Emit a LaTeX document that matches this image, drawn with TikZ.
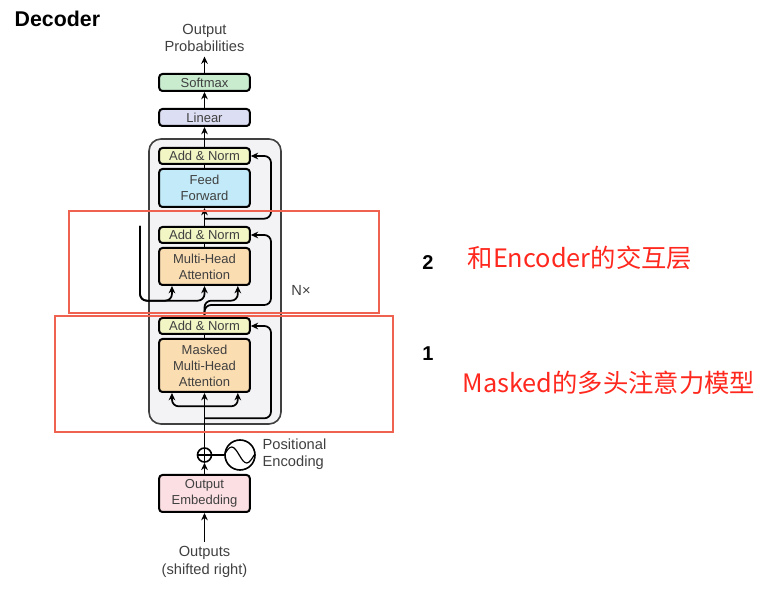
\documentclass[tikz,border=0pt]{standalone}
\usepackage{fontspec}
\setmainfont{Liberation Sans}
\newfontfamily\cjk{Noto Sans CJK SC}
\usetikzlibrary{arrows.meta, positioning}
\definecolor{smgreen}{RGB}{201,236,207}
\definecolor{linlav}{RGB}{220,222,243}
\definecolor{normyel}{RGB}{242,245,196}
\definecolor{ffblue}{RGB}{195,234,248}
\definecolor{attorange}{RGB}{251,221,178}
\definecolor{embpink}{RGB}{252,223,227}
\definecolor{stackgray}{RGB}{243,243,246}
\definecolor{txtgray}{RGB}{64,64,64}
\definecolor{markred}{RGB}{240,98,80}
\definecolor{notered}{RGB}{255,40,30}

\begin{document}
\begin{tikzpicture}[x=0.75pt, y=-0.75pt,
    box/.style={draw=black, line width=1.5pt, rounded corners=2.5pt, inner sep=0pt, minimum width=68pt, text=txtgray, font=\fontsize{9.75}{12}\selectfont, align=center},
    arr/.style={-{Stealth[length=5.5pt,width=5pt]}, line width=1.3pt},
    wire/.style={line width=1.3pt},
    lbl/.style={text=txtgray, font=\fontsize{11}{13}\selectfont, align=center}]
        \useasboundingbox (0,0) rectangle (769,598);
        % decoder stack
        \draw[fill=stackgray, draw=black!75, line width=1.2pt, rounded corners=9pt] (149,139) rectangle (281,424);
        \node[box, fill=smgreen, minimum height=12.75pt] (sm) at (204.5,82.5) {Softmax};
        \node[box, fill=linlav, minimum height=12.75pt] (lin) at (204.5,117.5) {Linear};
        \node[box, fill=normyel, minimum height=12pt] (an3) at (204.5,156) {Add \& Norm};
        \node[box, fill=ffblue, minimum height=28.5pt] (ff) at (204.5,188) {Feed\\Forward};
        \node[box, fill=normyel, minimum height=12pt] (an2) at (204.5,235) {Add \& Norm};
        \node[box, fill=attorange, minimum height=27.75pt] (mha) at (204.5,266.5) {Multi-Head\\Attention};
        \node[box, fill=normyel, minimum height=12pt] (an1) at (204.5,326) {Add \& Norm};
        \node[box, fill=attorange, minimum height=39.75pt] (mmha) at (204.5,365.5) {Masked\\Multi-Head\\Attention};
        \node[box, fill=embpink, minimum height=27.75pt] (emb) at (204.5,493.5) {Output\\Embedding};
        \node[circle, draw, line width=1.2pt, minimum size=10.5pt, inner sep=0pt] (plus) at (204.5,455) {};
        \node[circle, draw, line width=1.2pt, minimum size=22.5pt, inner sep=0pt] (pe) at (240,455) {};
        \node[lbl] (outp) at (204.5,38) {Output\\Probabilities};
        \node[lbl] (outs) at (204.5,562) {Outputs\\(shifted right)};
        \node[lbl, align=left, anchor=west] (pelbl) at (258,454) {Positional\\Encoding};
        \node[text=txtgray, font=\fontsize{11}{13}\selectfont] (nx) at (301,290) {N×};
        \coordinate (enc) at (140,226);
        % connectors, top part
        \draw[arr] (sm.north) -- (outp.south);
        \draw[arr] (lin.north) -- (sm.south);
        \draw[arr] (an3.north) -- (lin.south);
        \draw[wire] (ff.north) -- (an3.south);
        \draw[arr] (an2.north) -- (ff.south);
        \draw[arr, rounded corners=5pt] ([yshift=-8pt]ff.south) -- ++(66.5,0) |- (an3.east);
        \draw[wire] (mha.north) -- (an2.south);
        \draw[arr, rounded corners=5pt] (an1.north) |- ([xshift=25pt, yshift=-11pt]mha.south) -- ([xshift=25pt]mha.south);
        \draw[arr, rounded corners=5pt] (an1.north) -- ++(0,-12) -- ++(66.5,0) |- (an2.east);
        \draw[arr, rounded corners=5pt] (enc) |- ([xshift=-24.4pt, yshift=-11pt]mha.south) -- ([xshift=-24.4pt]mha.south);
        \draw[arr, rounded corners=5pt] (enc) |- ([yshift=-11pt]mha.south) -- (mha.south);
        % connectors, bottom part
        \draw[wire] (mmha.north) -- (an1.south);
        \draw[arr] (plus.north) -- (mmha.south);
        \draw[arr, rounded corners=5pt] ([yshift=-10pt]mmha.south) -| ([xshift=-24.4pt]mmha.south);
        \draw[arr, rounded corners=5pt] ([yshift=-10pt]mmha.south) -| ([xshift=25pt]mmha.south);
        \draw[arr, rounded corners=5pt] ([yshift=-19pt]mmha.south) -- ++(66.5,0) |- (an1.east);
        \draw[arr] (emb.north) -- (plus.south);
        \draw[wire] (plus.east) -- (pe.west);
        \draw[arr] (outs.north) -- (emb.south);
        \draw[line width=0.8pt] (plus.north) -- (plus.south) (plus.west) -- (plus.east);
        \draw[line width=0.9pt] (pe.west) sin ++(7.5,-8) cos ++(7.5,8) sin ++(7.5,8) cos ++(7.5,-8);
        % annotations
        \node[anchor=west, font=\bfseries\fontsize{16}{19}\selectfont] (title) at (10,19) {Decoder};
        \draw[markred, line width=1.2pt] (69,211) rectangle (379,313);
        \draw[markred, line width=1.2pt] (55,316) rectangle (393,432);
        \node[font=\bfseries\fontsize{15}{18}\selectfont] (n2) at (428,263) {2};
        \node[font=\bfseries\fontsize{15}{18}\selectfont] (n1) at (428,354) {1};
        \node[anchor=west, text=notered, font=\cjk\fontsize{19}{22}\selectfont] (note2) at (463,258) {和Encoder的交互层};
        \node[anchor=west, text=notered, font=\cjk\fontsize{19}{22}\selectfont] (note1) at (458,383) {Masked的多头注意力模型};
    \end{tikzpicture}
\end{document}
